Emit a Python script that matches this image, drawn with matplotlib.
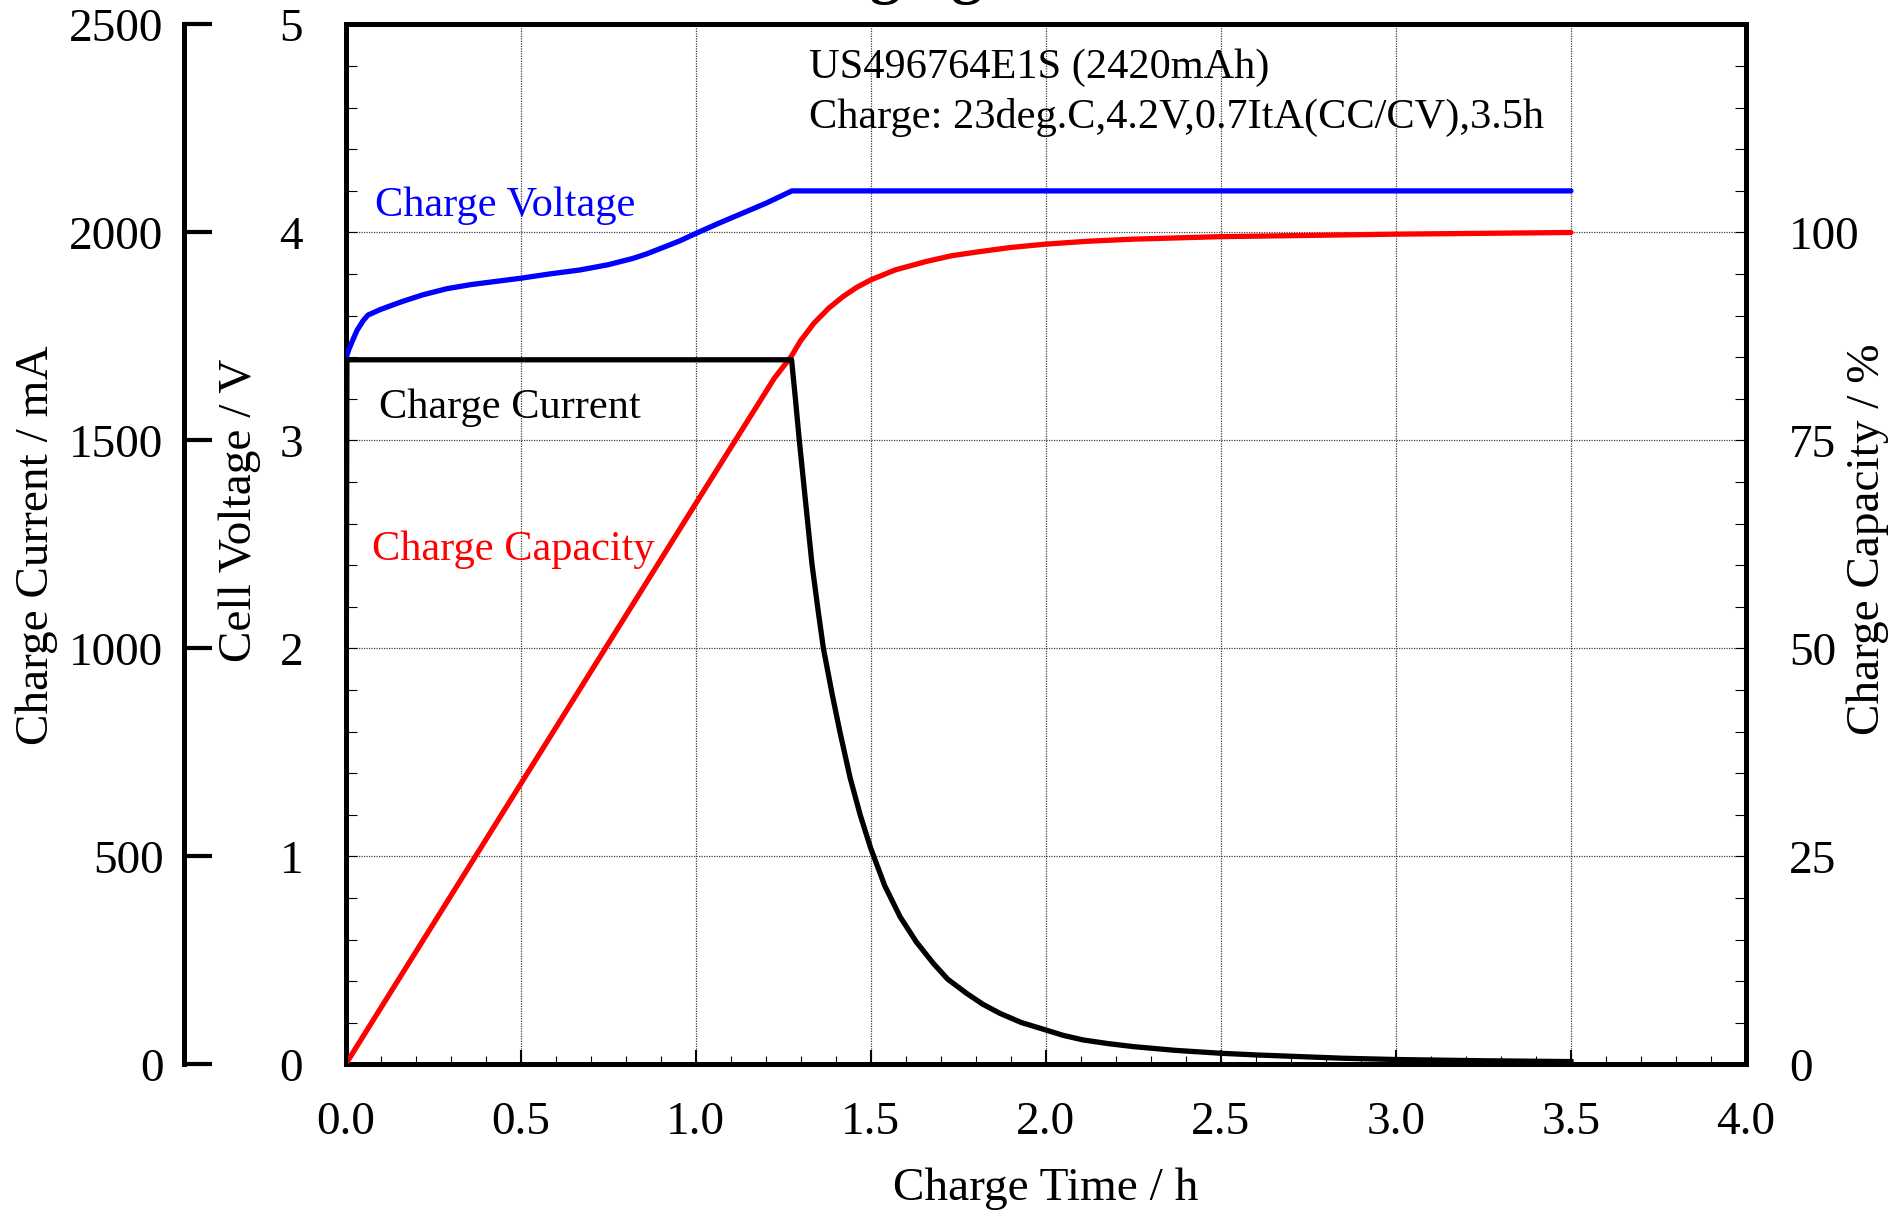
import matplotlib
matplotlib.use('Agg')
import matplotlib.pyplot as plt
from matplotlib.ticker import MultipleLocator

plt.rcParams['font.family'] = ['Liberation Serif', 'DejaVu Serif']
plt.rcParams['mathtext.fontset'] = 'stix'

# charge voltage (V) vs time (h)
t_volt = [0.00, 0.01, 0.02, 0.033, 0.05, 0.064, 0.10, 0.16, 0.22, 0.29, 0.36, 0.43,
          0.50, 0.58, 0.67, 0.75, 0.82, 0.86, 0.91, 0.955, 1.00, 1.06, 1.13, 1.20, 1.275, 3.50]
v_volt = [3.39, 3.44, 3.48, 3.53, 3.575, 3.603, 3.63, 3.667, 3.70, 3.73, 3.75, 3.765,
          3.78, 3.80, 3.82, 3.845, 3.875, 3.897, 3.93, 3.96, 3.995, 4.04, 4.09, 4.14, 4.20, 4.20]

# charge current (mA)
t_curr = [0.0, 0.004, 1.274, 1.285, 1.296, 1.3125, 1.332, 1.35, 1.365, 1.39, 1.412, 1.441,
          1.47, 1.50, 1.54, 1.584, 1.63, 1.679, 1.72, 1.774, 1.82, 1.869, 1.93, 2.0,
          2.05, 2.107, 2.18, 2.25, 2.37, 2.5, 2.6, 2.726, 2.85, 3.0, 3.25, 3.5]
i_curr = [0, 1694, 1694, 1600, 1501, 1365, 1205, 1090, 1000, 890, 800, 690,
          600, 520, 430, 355, 295, 243, 205, 171, 145, 123, 101, 83,
          70, 59, 50, 43, 34, 27, 23, 19, 15, 12, 9, 7]

# charge capacity (%)
t_cap = [0.0, 1.0, 1.225, 1.273, 1.30, 1.338, 1.38, 1.421, 1.46, 1.5, 1.57, 1.657, 1.73,
         1.811, 1.9, 2.0, 2.12, 2.25, 2.5, 3.0, 3.5]
c_cap = [0.0, 67.4, 82.5, 85.1, 87.0, 89.1, 90.9, 92.3, 93.4, 94.3, 95.5, 96.5, 97.2,
         97.7, 98.2, 98.6, 98.95, 99.2, 99.5, 99.8, 100.0]

x_ticks = [0.0, 0.5, 1.0, 1.5, 2.0, 2.5, 3.0, 3.5, 4.0]
v_ticks = [0, 1, 2, 3, 4, 5]
i_ticks = [0, 500, 1000, 1500, 2000, 2500]
c_ticks = [0, 25, 50, 75, 100]

tick_fs = 34
lab_fs = 34
note_fs = 30.5
spw = 3.6

fig = plt.figure(figsize=(19.01, 12.12), dpi=100)
ax = fig.add_axes([0.18175, 0.1217, 0.73672, 0.85809])
axr = ax.twinx()
axc = ax.twinx()

# voltage axis (main)
ax.plot(t_volt, v_volt, color='#0000ff', lw=3.8, solid_capstyle='round',
        solid_joinstyle='round', zorder=3)
ax.set_xlim(0, 4)
ax.set_ylim(0, 5)
ax.set_xticks(x_ticks)
ax.set_xticklabels(['%.1f' % x for x in x_ticks])
ax.set_yticks(v_ticks)
ax.xaxis.set_minor_locator(MultipleLocator(0.1))
ax.yaxis.set_minor_locator(MultipleLocator(0.2))
ax.tick_params(axis='x', which='major', direction='in', length=10, width=1.5,
               labelsize=tick_fs, pad=27, top=False)
ax.tick_params(axis='x', which='minor', direction='in', length=6, width=0.8, top=False)
ax.tick_params(axis='y', which='major', direction='in', length=8, width=0.8,
               labelsize=tick_fs, pad=30.5, right=False)
ax.tick_params(axis='y', which='minor', direction='in', length=8, width=0.8, right=False)
ax.grid(True, which='major', linestyle=(0, (1, 1)), color='0.25', lw=0.9)
for s in ax.spines.values():
    s.set_linewidth(spw)

ax.set_xlabel('Charge Time / h', fontsize=lab_fs)
ax.xaxis.set_label_coords(0.5, -0.099)
ax.xaxis.label.set_verticalalignment('top')
ax.set_ylabel('Cell Voltage / V', fontsize=lab_fs)
ax.yaxis.set_label_coords(-0.0753, 0.533)
ax.yaxis.label.set_verticalalignment('center')

# capacity axis (right)
axr.plot(t_cap, c_cap, color='#ff0000', lw=3.8, solid_capstyle='round',
         solid_joinstyle='round')
axr.set_ylim(0, 125)
axr.set_yticks(c_ticks)
axr.yaxis.set_minor_locator(MultipleLocator(5))
axr.tick_params(axis='y', which='both', direction='in', length=8, width=0.8,
                labelsize=tick_fs, pad=31)
for k, s in axr.spines.items():
    s.set_linewidth(spw)
    if k != 'right':
        s.set_visible(False)
axr.set_ylabel('Charge Capacity / %', fontsize=lab_fs)
axr.yaxis.set_label_coords(1.0872, 0.505)
axr.yaxis.label.set_verticalalignment('center')

# current axis (outer left)
axc.plot(t_curr, i_curr, color='black', lw=3.8, solid_joinstyle='round')
axc.set_ylim(0, 2500)
axc.set_yticks(i_ticks)
axc.spines['left'].set_position(('axes', -0.1151))
axc.spines['left'].set_visible(True)
axc.spines['left'].set_linewidth(spw)
for k in ['right', 'top', 'bottom']:
    axc.spines[k].set_visible(False)
axc.yaxis.set_ticks_position('left')
axc.yaxis.set_label_position('left')
axc.tick_params(axis='y', which='major', direction='in', length=20, width=3.0,
                labelsize=tick_fs, pad=15)
axc.set_ylabel('Charge Current / mA', fontsize=lab_fs)
axc.yaxis.set_label_coords(-0.2207, 0.499)
axc.yaxis.label.set_verticalalignment('center')

# annotations
ax.text(1.323, 4.79, 'US496764E1S (2420mAh)', fontsize=note_fs, va='center', ha='left')
ax.text(1.323, 4.555, 'Charge: 23deg.C,4.2V,0.7ItA(CC/CV),3.5h', fontsize=note_fs,
        va='center', ha='left')
ax.text(0.083, 4.13, 'Charge Voltage', fontsize=note_fs, color='#0000ff', va='center')
ax.text(0.097, 3.156, 'Charge Current', fontsize=note_fs, color='black', va='center')
ax.text(0.076, 2.474, 'Charge Capacity', fontsize=note_fs, color='#ff0000', va='center')

# title, mostly cut off at the top edge as in the original
fig.text(0.560, 1.0069, 'Charging Characteristics', fontsize=44, fontweight='bold',
         ha='center', va='baseline')

fig.savefig('out.png', dpi=100)
plt.close()
